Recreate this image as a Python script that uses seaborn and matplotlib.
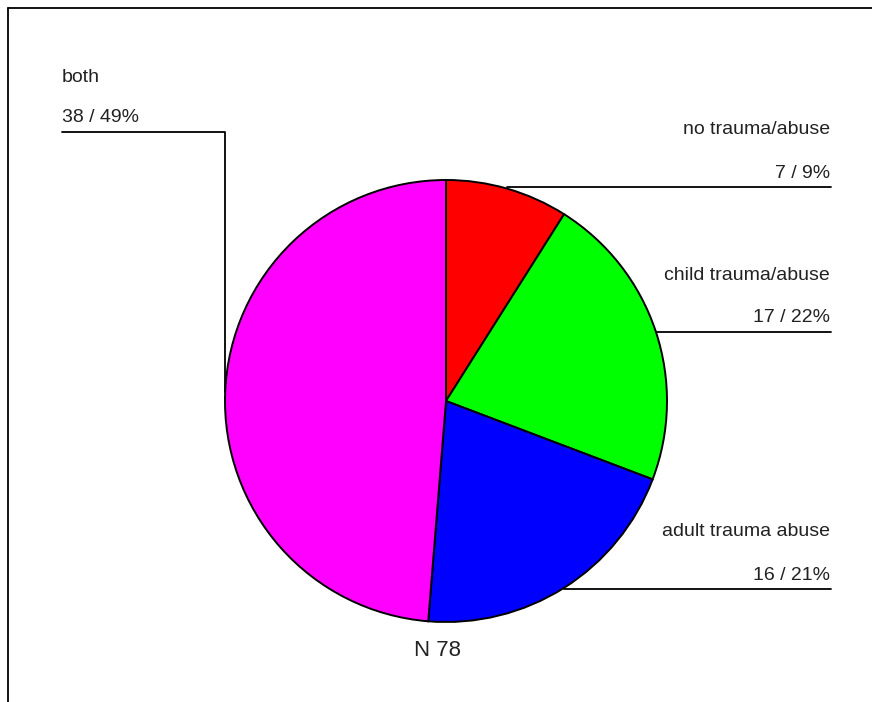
import numpy as np
import matplotlib
matplotlib.use("Agg")
import matplotlib.pyplot as plt
import seaborn as sns

# data
categories = ["no trauma/abuse", "child trauma/abuse", "adult trauma abuse", "both"]
counts = [7, 17, 16, 38]
colors = ["#ff0000", "#00ff00", "#0000ff", "#ff00ff"]
total_label = "N 78"

sns.set_theme(style="white")
plt.rcParams["font.family"] = ["Liberation Sans", "DejaVu Sans"]

W, H = 872, 702
fig = plt.figure(figsize=(W / 100, H / 100), dpi=100)
ax = fig.add_axes([0, 0, 1, 1])

cx, cy, r = 446, H - 401, 221
wedges, _ = ax.pie(counts, colors=colors, startangle=90, counterclock=False,
                   center=(cx, cy), radius=r, frame=True,
                   wedgeprops=dict(edgecolor="black", linewidth=1.4))
ax.set_xlim(0, W)
ax.set_ylim(0, H)
ax.set_aspect("equal")
ax.axis("off")

# frame lines (top and left)
ax.plot([8, W], [H - 8, H - 8], color="black", lw=1.3, clip_on=False)
ax.plot([8, 8], [H - 8, 0], color="black", lw=1.3, clip_on=False)

total = sum(counts)
line_y = [187, 332, 589, 132]  # pixel rows of leader lines
fs = 14
for w, name, n, ly in zip(wedges, categories, counts, line_y):
    mid = np.deg2rad((w.theta1 + w.theta2) / 2)
    px, py = cx + r * np.cos(mid), cy + r * np.sin(mid)
    ly = H - ly
    pct = f"{n} / {round(100 * n / total)}%"
    if px > cx:
        ax.plot([px, 831], [ly, ly], color="black", lw=1.3)
        ax.text(830, ly + 14, pct, ha="right", va="center", fontsize=fs, color="#222222")
        ax.text(830, ly + 57, name, ha="right", va="center", fontsize=fs, color="#222222")
    else:
        ax.plot([px, px, 62], [py, ly, ly], color="black", lw=1.3)
        ax.text(62, ly + 15, pct, ha="left", va="center", fontsize=fs, color="#222222")
        ax.text(62, ly + 55, name, ha="left", va="center", fontsize=fs, color="#222222")

ax.text(cx - 9, H - 651, total_label, ha="center", va="center", fontsize=16, color="#222222")

fig.savefig("out.png", dpi=100)
